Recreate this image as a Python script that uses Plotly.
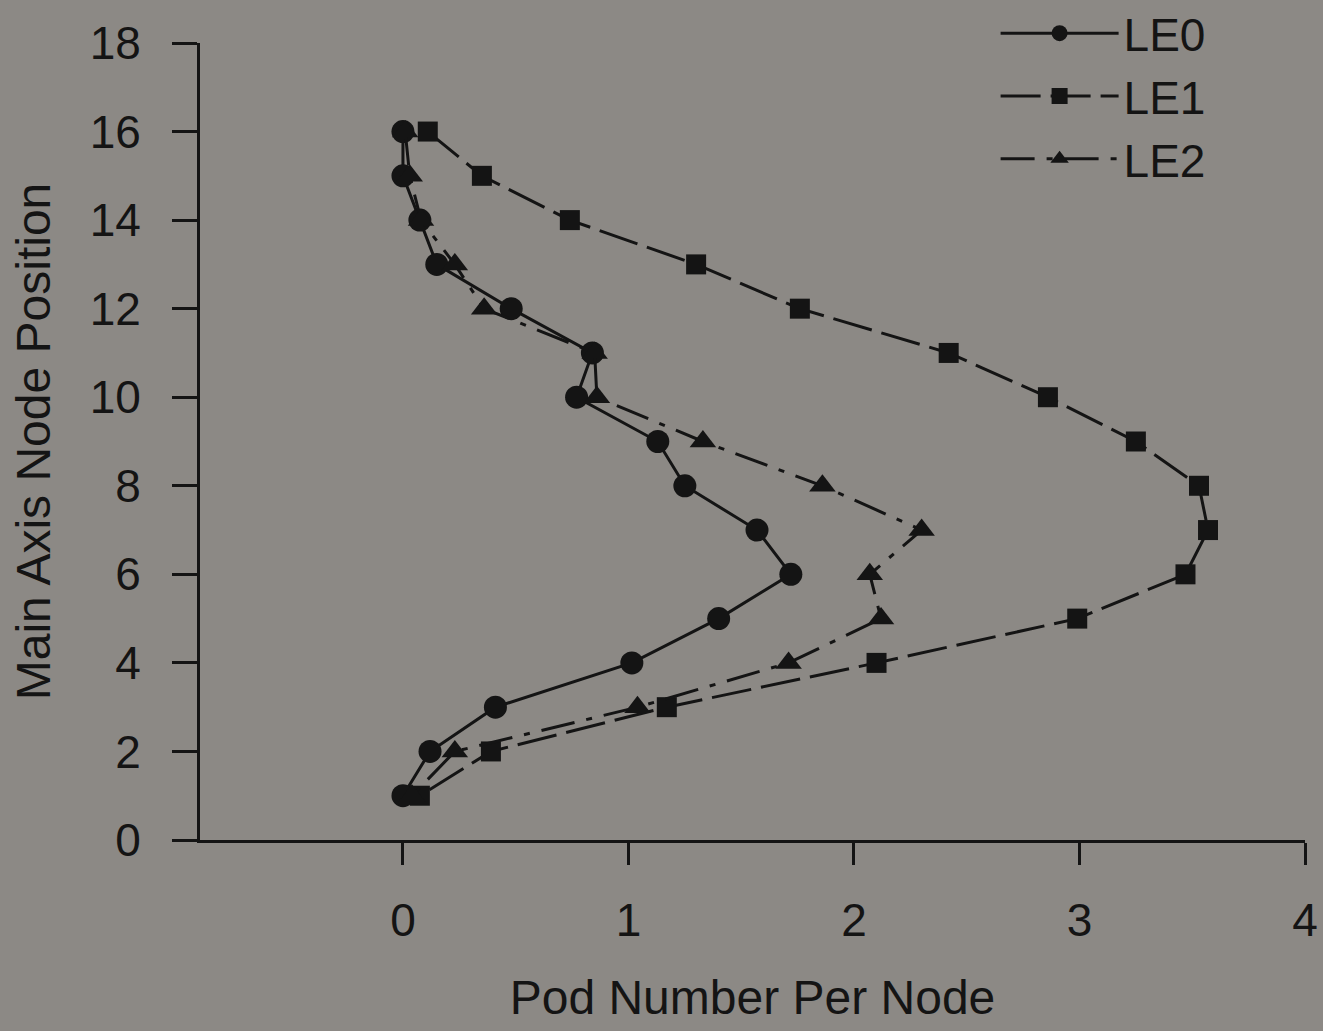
import plotly.graph_objects as go

node = list(range(16, 0, -1))
le0 = [0.0, 0.0, 0.075, 0.15, 0.48, 0.84, 0.77, 1.13, 1.25, 1.57, 1.72, 1.40, 1.015, 0.41, 0.12, 0.0]
le1 = [0.11, 0.35, 0.74, 1.30, 1.76, 2.42, 2.86, 3.25, 3.53, 3.57, 3.47, 2.99, 2.10, 1.17, 0.39, 0.075]
le2 = [0.01, 0.03, 0.08, 0.23, 0.36, 0.85, 0.86, 1.33, 1.86, 2.30, 2.07, 2.12, 1.71, 1.04, 0.23, 0.04]

names = ["LE0", "LE1", "LE2"]
ink = "#141414"
bg = "#8c8985"
font = "Liberation Sans, Arial, sans-serif"

fig = go.Figure()
specs = [
    (le0, "circle", 23, "solid"),
    (le1, "square", 20, "40px,10px"),
    (le2, "triangle-up", 23, "34px,12px,6px,12px"),
]
for name, (vals, sym, sz, dash) in zip(names, specs):
    fig.add_trace(go.Scatter(
        x=vals, y=node, name=name, mode="lines+markers",
        line=dict(color=ink, width=3, dash=dash),
        marker=dict(symbol=sym, size=sz, color=ink, line=dict(width=0)),
    ))

fig.update_layout(
    width=1323, height=1031,
    paper_bgcolor=bg, plot_bgcolor=bg,
    margin=dict(l=200, r=18, t=43, b=191, autoexpand=False),
    font=dict(family=font, size=46, color=ink),
    showlegend=True,
    legend=dict(x=0.72, y=1.058, xanchor="left", yanchor="top",
                bgcolor="rgba(0,0,0,0)", font=dict(size=46, color=ink),
                itemwidth=118, tracegroupgap=0),
    xaxis=dict(range=[-0.9, 4.0], tickvals=[0, 1, 2, 3, 4], showgrid=False,
               zeroline=False, showline=True, linecolor=ink, linewidth=3,
               ticks="outside", ticklen=22, tickwidth=3, tickcolor=ink,
               tickfont=dict(size=46), ticklabelstandoff=16,
               title=dict(text="Pod Number Per Node", font=dict(size=48), standoff=36)),
    yaxis=dict(range=[0, 18], tickvals=list(range(0, 19, 2)), showgrid=False,
               zeroline=False, showline=True, linecolor=ink, linewidth=3,
               ticks="outside", ticklen=25, tickwidth=3, tickcolor=ink,
               tickfont=dict(size=46), ticklabelstandoff=22,
               title=dict(text="Main Axis Node Position", font=dict(size=48), standoff=24)),
)

fig.write_html("out.html")
